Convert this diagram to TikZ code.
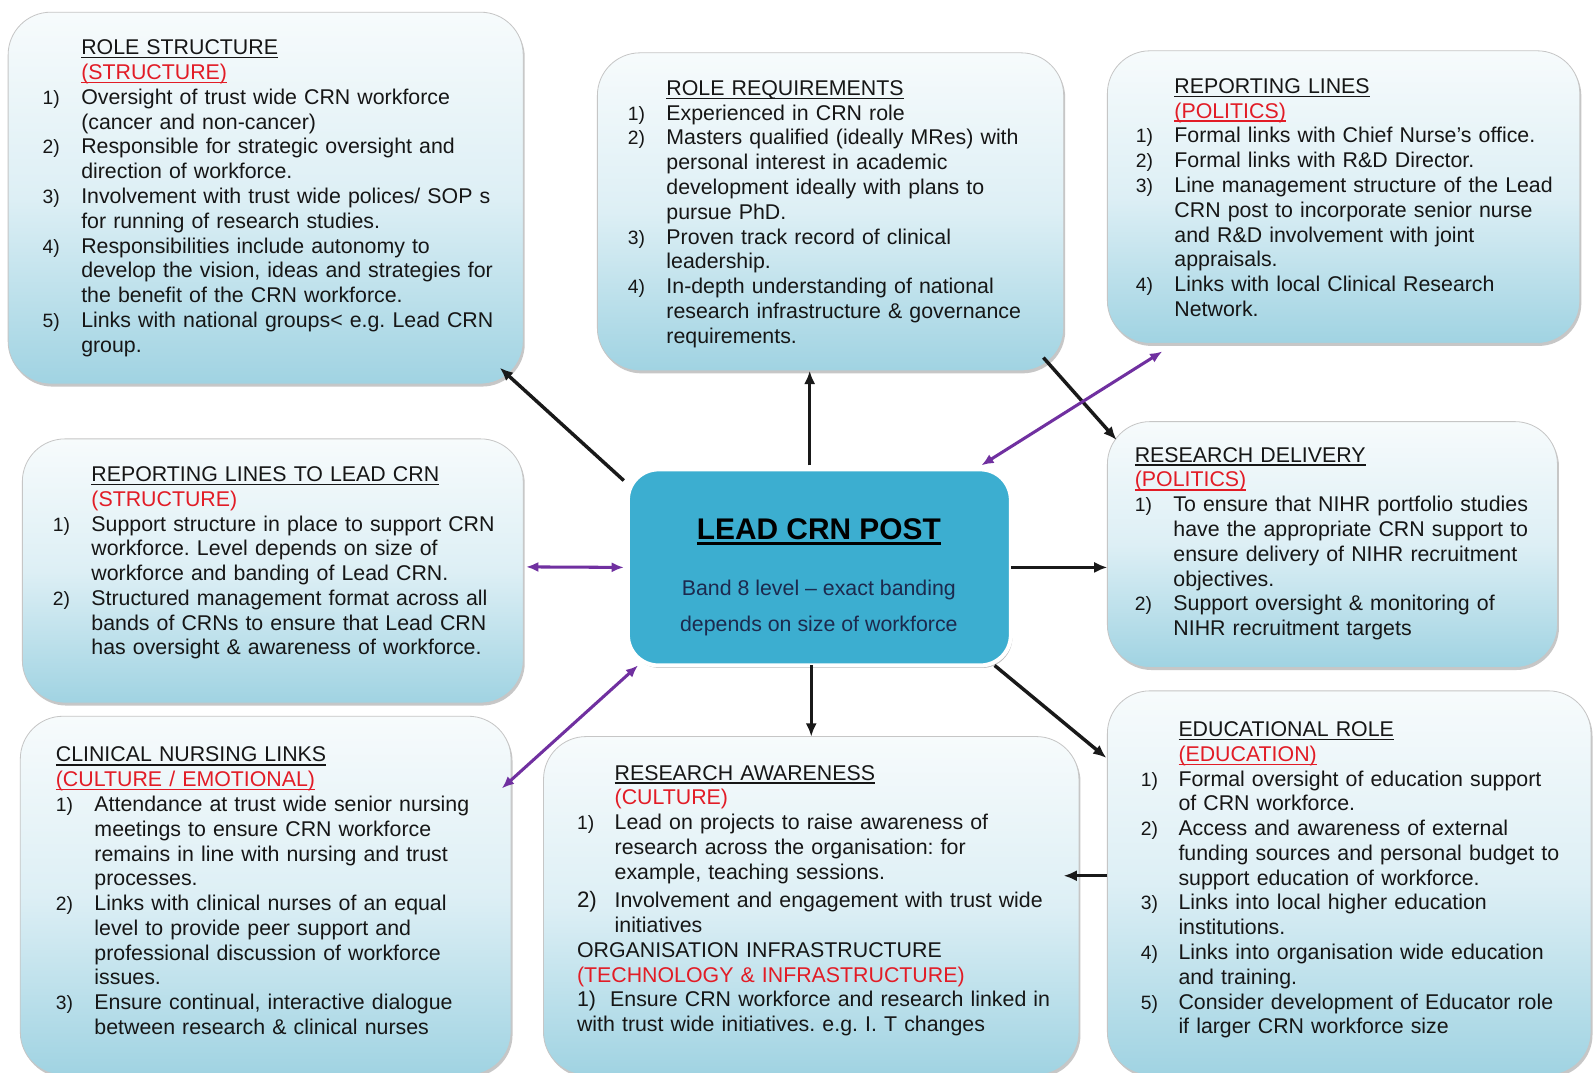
\documentclass[tikz,border=0pt]{standalone}
\usepackage{fontspec}
\setmainfont{Liberation Sans}
\usetikzlibrary{arrows.meta,shadows}
\frenchspacing

\definecolor{boxtop}{RGB}{247,251,252}
\definecolor{boxmid}{RGB}{221,239,245}
\definecolor{boxbot}{RGB}{160,211,226}
\definecolor{hubfill}{RGB}{60,174,208}
\definecolor{catred}{RGB}{226,28,38}
\definecolor{linkpurple}{RGB}{112,48,160}
\definecolor{bodyink}{RGB}{22,22,22}
\definecolor{hubink}{RGB}{28,42,78}

\newlength\numw
\setlength\numw{38pt}
% underline drawn as a rule in the current colour
\newcommand\undl[1]{\begingroup\setbox0\hbox{#1}\rlap{\rule[-3.6pt]{\wd0}{1.3pt}}\box0\endgroup}
\newcommand\hubundl[1]{\begingroup\setbox0\hbox{#1}\rlap{\rule[-5pt]{\wd0}{2.4pt}}\box0\endgroup}
\newcommand\bodysz{\fontsize{21}{24.4}\selectfont}
\newcommand\numsz{\fontsize{19}{24.4}\selectfont}
\newcommand\nxl{\newline}
% numbered item: number column, then text with a hanging indent
\newcommand\itm[3][\numsz]{\par\hangindent=\numw\hangafter=1\noindent\makebox[\numw][l]{#1#2}#3\par}
\newcommand\hd[1]{\par\noindent #1\par}
\newcommand\hdin[1]{\par\noindent\hspace*{\numw}#1\par}
\newcommand\cat[1]{\textcolor{catred}{#1}}

\tikzset{
  panel/.style={rectangle, rounded corners=42pt, draw=gray!45, line width=0.8pt,
    top color=boxtop, bottom color=boxbot, middle color=boxmid,
    drop shadow={shadow xshift=1.5pt, shadow yshift=-2.5pt, opacity=0.4, fill=black!55},
    inner sep=0pt, outer sep=0pt},
  hub/.style={rectangle, rounded corners=30pt, fill=hubfill, draw=white, line width=4pt,
    drop shadow={shadow xshift=1.5pt, shadow yshift=-2.5pt, opacity=0.45, fill=black!60},
    inner sep=0pt, outer sep=0pt},
  txt/.style={anchor=base west, inner sep=0pt, outer sep=0pt, font=\bodysz, text=bodyink, align=left},
  blk/.style={draw=black!90, line width=3.4pt, -{Latex[length=13pt,width=11pt]}},
  prp/.style={draw=linkpurple, line width=3pt, {Latex[length=12pt,width=10pt]}-{Latex[length=12pt,width=10pt]}},
}

\begin{document}
\begin{tikzpicture}[x=1pt,y=-1pt]
\useasboundingbox (0,0) rectangle (1568,1056);
\fill[white] (0,0) rectangle (1568,1056);

% ---- panels ----
\node[panel, minimum width=507pt, minimum height=366pt] (rs)  at (261.5,195) {};
\node[panel, minimum width=459pt, minimum height=313pt] (req) at (817.5,208.5) {};
\node[panel, minimum width=465pt, minimum height=288pt] (rep) at (1322.5,194) {};
\node[panel, minimum width=493pt, minimum height=260pt] (lt)  at (268.5,562) {};
\node[panel, minimum width=443pt, minimum height=242pt] (del) at (1311.5,536) {};
\node[panel, minimum width=483pt, minimum height=353pt] (cn)  at (261.5,881.5) {};
\node[panel, minimum width=527pt, minimum height=333pt] (aw)  at (798.5,891.5) {};
\node[panel, minimum width=476pt, minimum height=378pt] (edu) at (1328,869) {};
\node[hub,   minimum width=377pt, minimum height=193pt] (ctr) at (806.5,558.5) {};

% ---- central post ----
\node[anchor=base, inner sep=0pt, font=\bfseries\fontsize{29.4}{32}\selectfont] (hubttl) at (806,531) {\hubundl{LEAD CRN POST}};
\node[anchor=base, inner sep=0pt, font=\bodysz, text=hubink] (hubl1) at (806,586) {Band 8 level – exact banding};
\node[anchor=base, inner sep=0pt, font=\bodysz, text=hubink] (hubl2) at (806,622) {depends on size of workforce};

% ---- panel texts ----
\node[txt, text width=470pt] (rstxt) at (42,29.5) {%
\hdin{\undl{ROLE STRUCTURE}}
\hdin{\cat{\undl{(STRUCTURE)}}}
\itm{1)}{Oversight of trust wide CRN workforce\nxl(cancer and non-cancer)}
\itm{2)}{Responsible for strategic oversight and\nxl direction of workforce.}
\itm{3)}{Involvement with trust wide polices/ SOP s\nxl for running of research studies.}
\itm{4)}{Responsibilities include autonomy to\nxl develop the vision, ideas and strategies for\nxl the benefit of the CRN workforce.}
\itm{5)}{Links with national groups< e.g. Lead CRN\nxl group.}};

\node[txt, text width=440pt] (reqtxt) at (618,69.5) {%
\hdin{\undl{ROLE REQUIREMENTS}}
\itm{1)}{Experienced in CRN role}
\itm{2)}{Masters qualified (ideally MRes) with\nxl personal interest in academic\nxl development ideally with plans to\nxl pursue PhD.}
\itm{3)}{Proven track record of clinical\nxl leadership.}
\itm{4)}{In-depth understanding of national\nxl research infrastructure \& governance\nxl requirements.}};

\node[txt, text width=440pt] (reptxt) at (1118,67.5) {%
\hdin{\undl{REPORTING LINES}}
\hdin{\cat{\undl{(POLITICS)}}}
\itm{1)}{Formal links with Chief Nurse's office.}
\itm{2)}{Formal links with R\&D Director.}
\itm{3)}{Line management structure of the Lead\nxl CRN post to incorporate senior nurse\nxl and R\&D involvement with joint\nxl appraisals.}
\itm{4)}{Links with local Clinical Research\nxl Network.}};

\node[txt, text width=470pt] (lttxt) at (52,449.5) {%
\hdin{\undl{REPORTING LINES TO LEAD CRN}}
\hdin{\cat{(STRUCTURE)}}
\itm{1)}{Support structure in place to support CRN\nxl workforce. Level depends on size of\nxl workforce and banding of Lead CRN.}
\itm{2)}{\makebox[396pt][s]{Structured management format across all}\nxl\makebox[396pt][s]{bands of CRNs to ensure that Lead CRN}\nxl has oversight \& awareness of workforce.}};

\node[txt, text width=430pt] (deltxt) at (1117,430.5) {%
\hd{\undl{RESEARCH DELIVERY}}
\hd{\cat{\undl{(POLITICS)}}}
\itm{1)}{To ensure that NIHR portfolio studies\nxl have the appropriate CRN support to\nxl ensure delivery of NIHR recruitment\nxl objectives.}
\itm{2)}{Support oversight \& monitoring of\nxl NIHR recruitment targets}};

\node[txt, text width=440pt] (cntxt) at (55,725.5) {%
\hd{\undl{CLINICAL NURSING LINKS}}
\hd{\cat{\undl{(CULTURE / EMOTIONAL)}}}
\itm{1)}{Attendance at trust wide senior nursing\nxl meetings to ensure CRN workforce\nxl remains in line with nursing and trust\nxl processes.}
\itm{2)}{Links with clinical nurses of an equal\nxl level to provide peer support and\nxl professional discussion of workforce\nxl issues.}
\itm{3)}{Ensure continual, interactive dialogue\nxl between research \& clinical nurses}};

\node[txt, text width=490pt] (awtxt) at (568,743.5) {\setlength\numw{37pt}%
\hdin{\undl{RESEARCH AWARENESS}}
\hdin{\cat{(CULTURE)}}
\itm{1)}{Lead on projects to raise awareness of\nxl research across the organisation: for\nxl example, teaching sessions.}
\vspace*{3.5pt}
\itm[\fontsize{22}{24.4}\selectfont]{2)}{Involvement and engagement with trust wide\nxl initiatives}
\hd{ORGANISATION INFRASTRUCTURE}
\hd{\cat{(TECHNOLOGY \& INFRASTRUCTURE)}}
\hd{1)\ \ Ensure CRN workforce and research linked in\nxl with trust wide initiatives. e.g. I. T changes}};

\node[txt, text width=440pt] (edutxt) at (1123,700.5) {\setlength\numw{37pt}%
\hdin{\undl{EDUCATIONAL ROLE}}
\hdin{\cat{\undl{(EDUCATION)}}}
\itm{1)}{Formal oversight of education support\nxl of CRN workforce.}
\itm{2)}{Access and awareness of external\nxl funding sources and personal budget to\nxl support education of workforce.}
\itm{3)}{Links into local higher education\nxl institutions.}
\itm{4)}{Links into organisation wide education\nxl and training.}
\itm{5)}{Consider development of Educator role\nxl if larger CRN workforce size}};

% ---- connectors ----
\draw[blk] ([shift={(-4,11)}]ctr.north west) -- ([shift={(-23,-16)}]rs.south east);
\draw[blk] ([shift={(-9.5,-4)}]ctr.north) -- ([shift={(-20.5,0)}]req.south);
\draw[blk] ([shift={(-20,-13)}]req.south east) -- ([shift={(9,18)}]del.north west);
\draw[prp] ([shift={(-29,-4)}]ctr.north east) -- ([shift={(54,8)}]rep.south west);
\draw[prp] ([shift={(3,-4)}]lt.east) -- ([shift={(-4,0)}]ctr.west);
\draw[blk] (ctr.east) -- (ctr.east -| del.west);
\draw[blk] (aw.north |- ctr.south) -- (aw.north);
\draw[prp] ([shift={(10,0)}]ctr.south west) -- ([shift={(-9,71)}]cn.north east);
\draw[blk] ([shift={(-16,0)}]ctr.south east) -- ([shift={(-1,66)}]edu.north west);
\draw[blk] ([shift={(0,-7)}]edu.west) -- ([shift={(-15,-29.5)}]aw.east);
\end{tikzpicture}
\end{document}
